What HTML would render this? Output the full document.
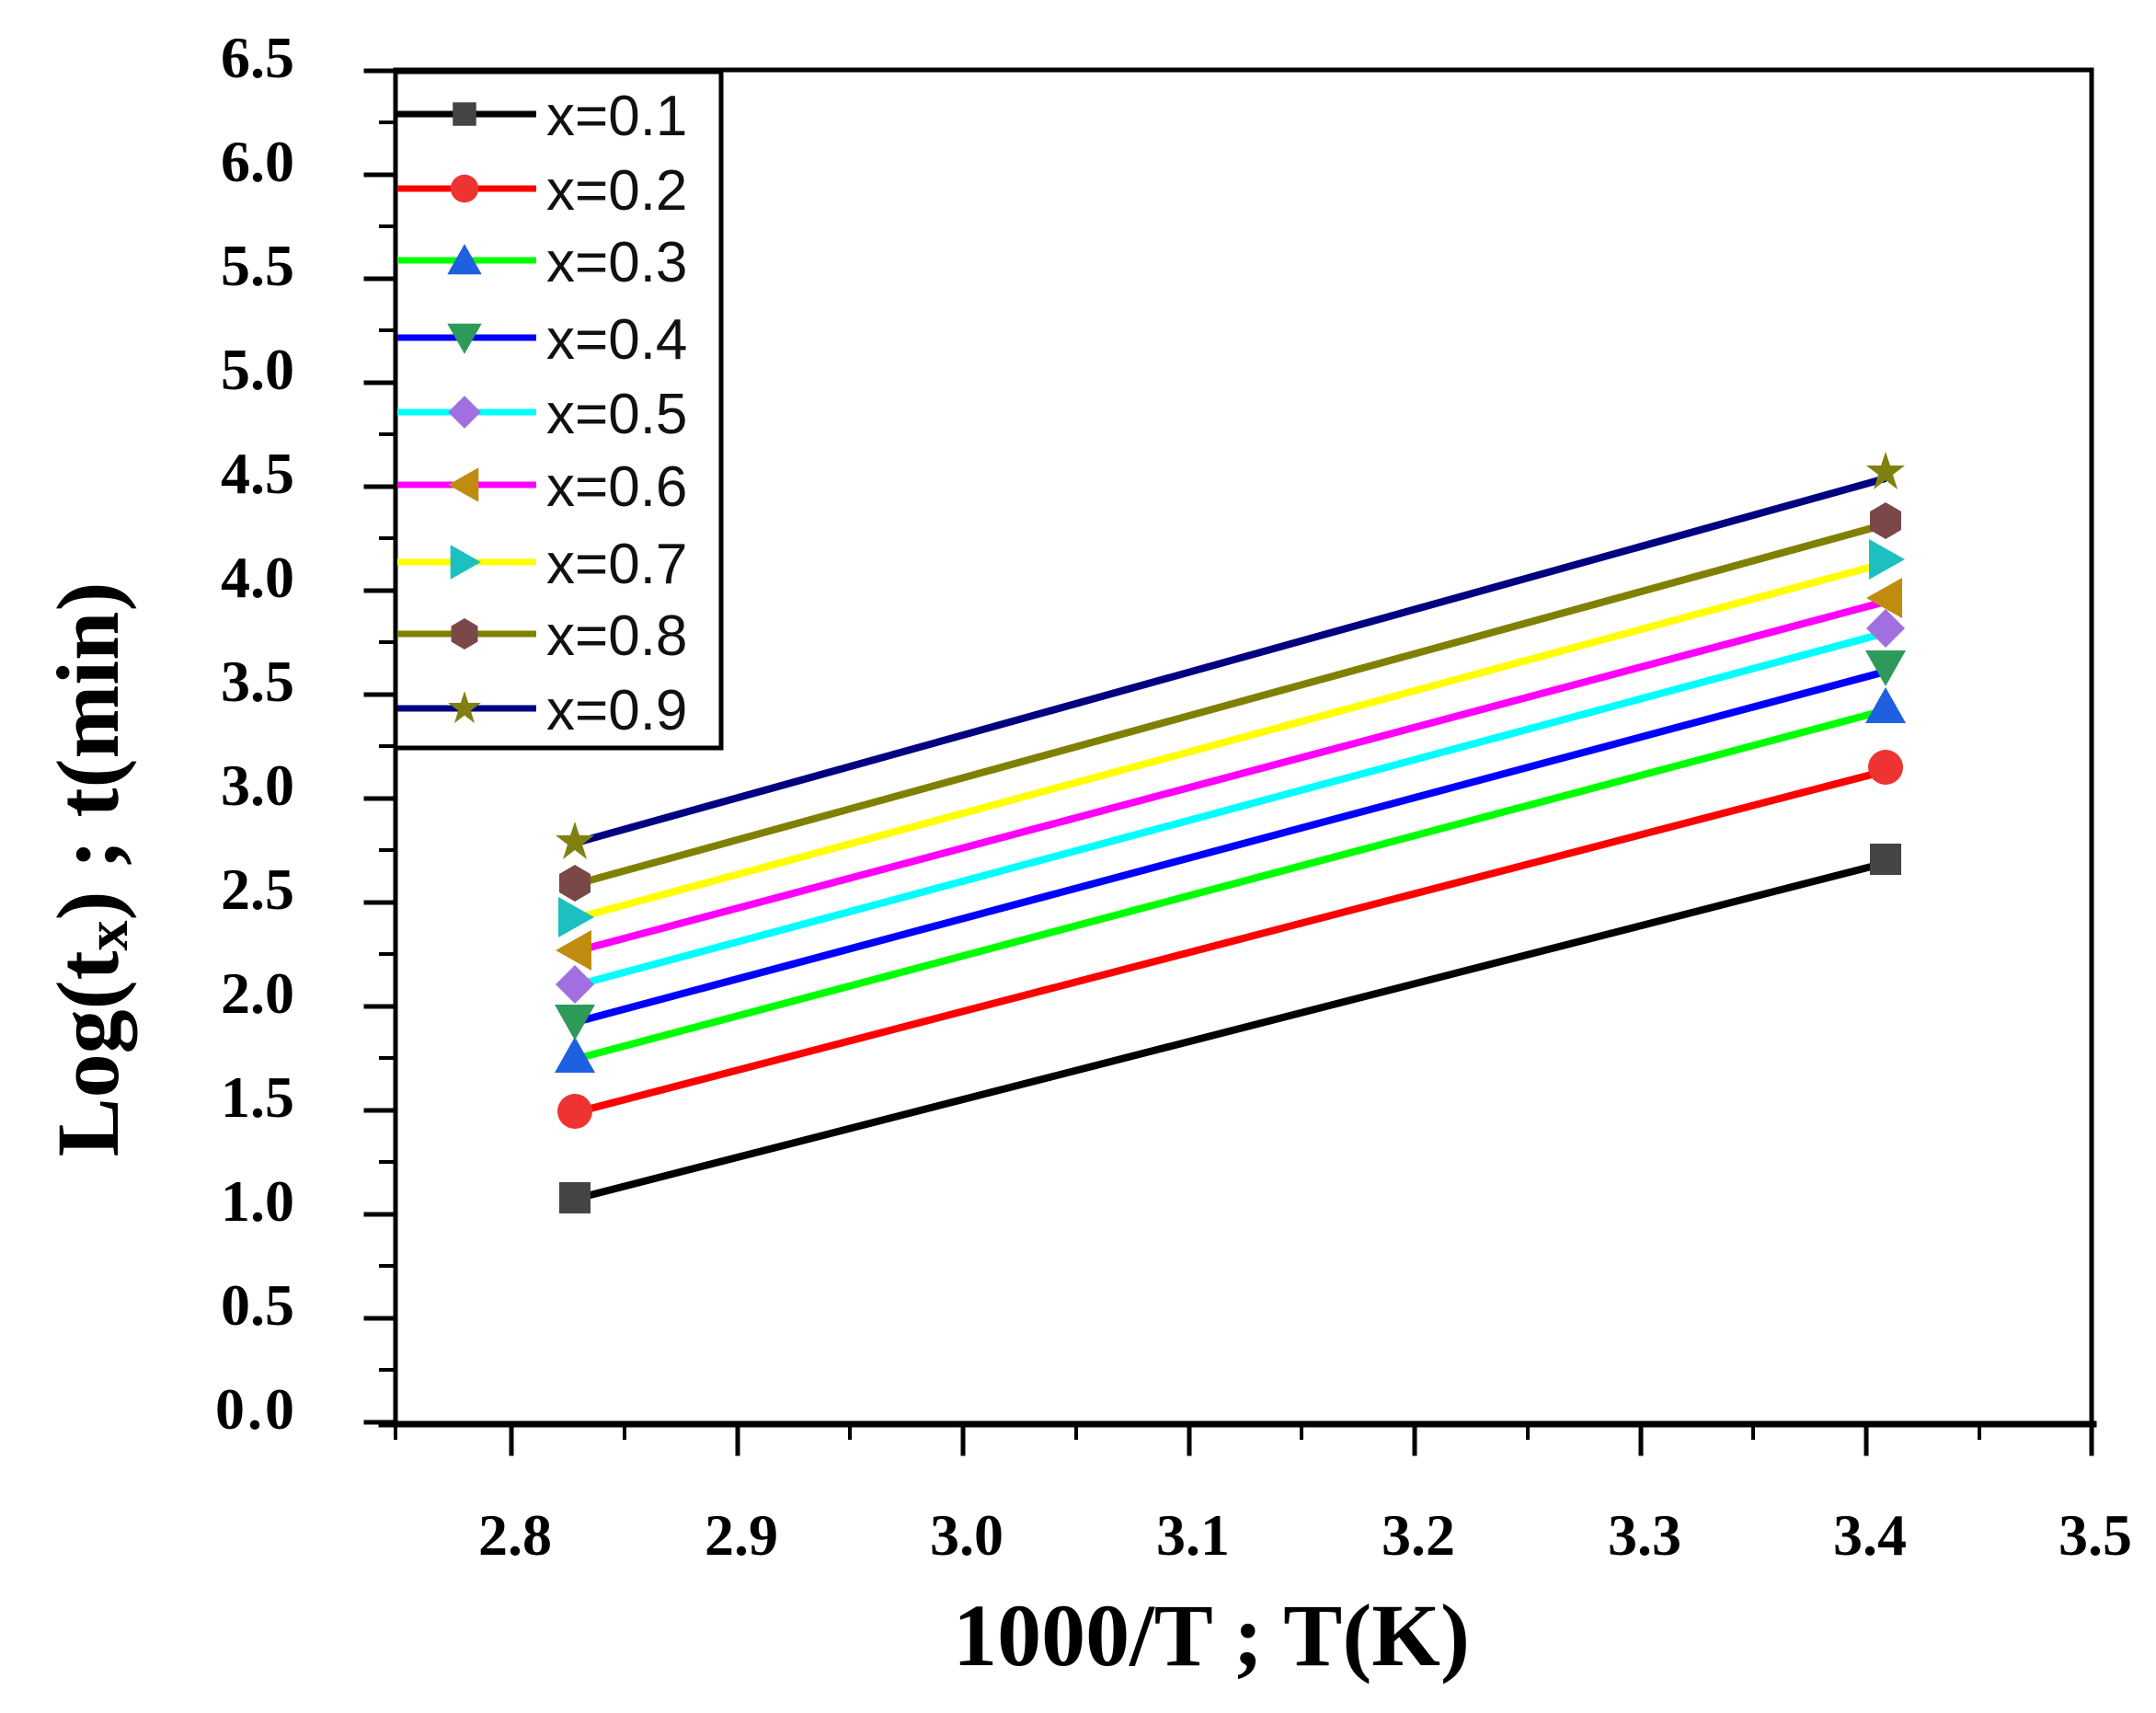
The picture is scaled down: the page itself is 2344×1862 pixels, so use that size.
<!DOCTYPE html>
<html><head><meta charset="utf-8"><style>html,body{margin:0;padding:0;background:#fff}svg{display:block}</style></head>
<body>
<svg width="2344" height="1862" viewBox="0 0 2344 1862" xmlns="http://www.w3.org/2000/svg">
<rect width="2344" height="1862" fill="#fff"/>
<g stroke="#000" fill="none" stroke-linecap="square">
<g stroke-width="5">
<line x1="398" y1="1546" x2="428" y2="1546"/><line x1="398" y1="1433" x2="428" y2="1433"/><line x1="398" y1="1320" x2="428" y2="1320"/><line x1="398" y1="1207" x2="428" y2="1207"/><line x1="398" y1="1094" x2="428" y2="1094"/><line x1="398" y1="981" x2="428" y2="981"/><line x1="398" y1="868" x2="428" y2="868"/><line x1="398" y1="755" x2="428" y2="755"/><line x1="398" y1="642" x2="428" y2="642"/><line x1="398" y1="529" x2="428" y2="529"/><line x1="398" y1="416" x2="428" y2="416"/><line x1="398" y1="303" x2="428" y2="303"/><line x1="398" y1="190" x2="428" y2="190"/><line x1="398" y1="77" x2="428" y2="77"/>
</g>
<g stroke-width="4">
<line x1="414" y1="1489" x2="428" y2="1489"/><line x1="414" y1="1376" x2="428" y2="1376"/><line x1="414" y1="1263" x2="428" y2="1263"/><line x1="414" y1="1150" x2="428" y2="1150"/><line x1="414" y1="1037" x2="428" y2="1037"/><line x1="414" y1="924" x2="428" y2="924"/><line x1="414" y1="811" x2="428" y2="811"/><line x1="414" y1="698" x2="428" y2="698"/><line x1="414" y1="585" x2="428" y2="585"/><line x1="414" y1="472" x2="428" y2="472"/><line x1="414" y1="359" x2="428" y2="359"/><line x1="414" y1="246" x2="428" y2="246"/><line x1="414" y1="133" x2="428" y2="133"/>
</g>
<g stroke-width="5">
<line x1="556" y1="1548" x2="556" y2="1580"/><line x1="802" y1="1548" x2="802" y2="1580"/><line x1="1047" y1="1548" x2="1047" y2="1580"/><line x1="1293" y1="1548" x2="1293" y2="1580"/><line x1="1538" y1="1548" x2="1538" y2="1580"/><line x1="1784" y1="1548" x2="1784" y2="1580"/><line x1="2029" y1="1548" x2="2029" y2="1580"/><line x1="2274" y1="1548" x2="2274" y2="1580"/>
</g>
<g stroke-width="4">
<line x1="430" y1="1548" x2="430" y2="1563"/><line x1="679" y1="1548" x2="679" y2="1563"/><line x1="924" y1="1548" x2="924" y2="1563"/><line x1="1170" y1="1548" x2="1170" y2="1563"/><line x1="1415" y1="1548" x2="1415" y2="1563"/><line x1="1661" y1="1548" x2="1661" y2="1563"/><line x1="1906" y1="1548" x2="1906" y2="1563"/><line x1="2152" y1="1548" x2="2152" y2="1563"/>
</g>
<rect x="430" y="76" width="1844" height="1472" stroke-width="5"/>
<line x1="415" y1="1548" x2="2276" y2="1548" stroke-width="7"/>
</g>
<g font-family="Liberation Serif, serif" font-weight="bold" font-size="64" fill="#000" text-anchor="end">
<text x="320" y="1553" textLength="86">0.0</text><text x="320" y="1440">0.5</text><text x="320" y="1327">1.0</text><text x="320" y="1214">1.5</text><text x="320" y="1101">2.0</text><text x="320" y="988">2.5</text><text x="320" y="875">3.0</text><text x="320" y="762">3.5</text><text x="320" y="649">4.0</text><text x="320" y="536">4.5</text><text x="320" y="423">5.0</text><text x="320" y="310">5.5</text><text x="320" y="197">6.0</text><text x="320" y="84">6.5</text>
</g>
<g font-family="Liberation Serif, serif" font-weight="bold" font-size="64" fill="#000" text-anchor="middle">
<text x="560" y="1690">2.8</text><text x="806" y="1690">2.9</text><text x="1051" y="1690">3.0</text><text x="1297" y="1690">3.1</text><text x="1542" y="1690">3.2</text><text x="1788" y="1690">3.3</text><text x="2033" y="1690">3.4</text><text x="2278" y="1690">3.5</text>
</g>
<text x="1317" y="1810" font-family="Liberation Serif, serif" font-weight="bold" font-size="96" text-anchor="middle">1000/T ; T(K)</text>
<text transform="translate(128,945) rotate(-90)" font-family="Liberation Serif, serif" font-weight="bold" font-size="96" text-anchor="middle">Log(t<tspan font-size="66" dy="10">x</tspan><tspan dy="-10">) ; t(min)</tspan></text>
<g stroke-width="8" fill="none">
<line x1="630" y1="1302" x2="2050" y2="938" stroke="#000"/>
<line x1="630" y1="1208" x2="2050" y2="838" stroke="#f00"/>
<line x1="630" y1="1150" x2="2050" y2="772" stroke="#0f0"/>
<line x1="630" y1="1110" x2="2050" y2="730" stroke="#00f"/>
<line x1="630" y1="1070" x2="2050" y2="688" stroke="#0ff"/>
<line x1="630" y1="1033" x2="2050" y2="654" stroke="#f0f"/>
<line x1="630" y1="997" x2="2050" y2="612" stroke="#ff0"/>
<line x1="630" y1="960" x2="2050" y2="570" stroke="#808000"/>
<line x1="630" y1="915" x2="2050" y2="520" stroke="#000080"/>
</g>
<defs>
<rect id="m1" x="-17" y="-17" width="34" height="34" fill="#444"/>
<circle id="m2" r="19" fill="#e33"/>
<polygon id="m3" points="0,-21 22,18 -22,18" fill="#1f60e0"/>
<polygon id="m4" points="0,21 22,-18 -22,-18" fill="#2e9a5a"/>
<polygon id="m5" points="0,-21 21,0 0,21 -21,0" fill="#a070e0"/>
<polygon id="m6" points="-21,0 18,-22 18,22" fill="#c08c10"/>
<polygon id="m7" points="21,0 -18,-22 -18,22" fill="#1cc0c0"/>
<polygon id="m8" points="0,-20 17,-10 17,10 0,20 -17,10 -17,-10" fill="#7a4848"/>
<polygon id="m9" points="0,-22 5,-7 21,-7 8,3 13,19 0,9 -13,19 -8,3 -21,-7 -5,-7" fill="#808010"/>
</defs>
<use href="#m1" x="625" y="1302"/><use href="#m1" x="2050" y="934"/>
<use href="#m2" x="625" y="1208"/><use href="#m2" x="2050" y="834"/>
<use href="#m3" x="625" y="1148"/><use href="#m3" x="2050" y="768"/>
<use href="#m4" x="625" y="1110"/><use href="#m4" x="2050" y="725"/>
<use href="#m5" x="625" y="1070"/><use href="#m5" x="2050" y="683"/>
<use href="#m6" x="625" y="1033"/><use href="#m6" x="2050" y="650"/>
<use href="#m7" x="625" y="997"/><use href="#m7" x="2050" y="608"/>
<use href="#m8" x="625" y="960"/><use href="#m8" x="2050" y="566"/>
<use href="#m9" x="625" y="915"/><use href="#m9" x="2050" y="513"/>
<rect x="430" y="78" width="354" height="735" fill="#fff" stroke="#000" stroke-width="5"/>
<g stroke-width="7">
<line x1="432" y1="124" x2="583" y2="124" stroke="#000"/>
<line x1="432" y1="205" x2="583" y2="205" stroke="#f00"/>
<line x1="432" y1="283" x2="583" y2="283" stroke="#0f0"/>
<line x1="432" y1="367" x2="583" y2="367" stroke="#00f"/>
<line x1="432" y1="448" x2="583" y2="448" stroke="#0ff"/>
<line x1="432" y1="527" x2="583" y2="527" stroke="#f0f"/>
<line x1="432" y1="611" x2="583" y2="611" stroke="#ff0"/>
<line x1="432" y1="689" x2="583" y2="689" stroke="#808000"/>
<line x1="432" y1="770" x2="583" y2="770" stroke="#000080"/>
</g>
<use href="#m1" x="505" y="124" transform="translate(505,124) scale(0.75) translate(-505,-124)"/>
<use href="#m2" x="505" y="205" transform="translate(505,205) scale(0.8) translate(-505,-205)"/>
<use href="#m3" x="505" y="283" transform="translate(505,283) scale(0.85) translate(-505,-283)"/>
<use href="#m4" x="505" y="367" transform="translate(505,367) scale(0.85) translate(-505,-367)"/>
<use href="#m5" x="505" y="448" transform="translate(505,448) scale(0.85) translate(-505,-448)"/>
<use href="#m6" x="505" y="527" transform="translate(505,527) scale(0.85) translate(-505,-527)"/>
<use href="#m7" x="505" y="611" transform="translate(505,611) scale(0.85) translate(-505,-611)"/>
<use href="#m8" x="505" y="689" transform="translate(505,689) scale(0.85) translate(-505,-689)"/>
<use href="#m9" x="505" y="770" transform="translate(505,770) scale(0.85) translate(-505,-770)"/>
<g font-family="Liberation Sans, sans-serif" font-size="62" fill="#111">
<text x="594" y="147">x=0.1</text><text x="594" y="228">x=0.2</text><text x="594" y="306">x=0.3</text><text x="594" y="390">x=0.4</text><text x="594" y="471">x=0.5</text><text x="594" y="550">x=0.6</text><text x="594" y="634">x=0.7</text><text x="594" y="712">x=0.8</text><text x="594" y="793">x=0.9</text>
</g>
</svg>
</body></html>
